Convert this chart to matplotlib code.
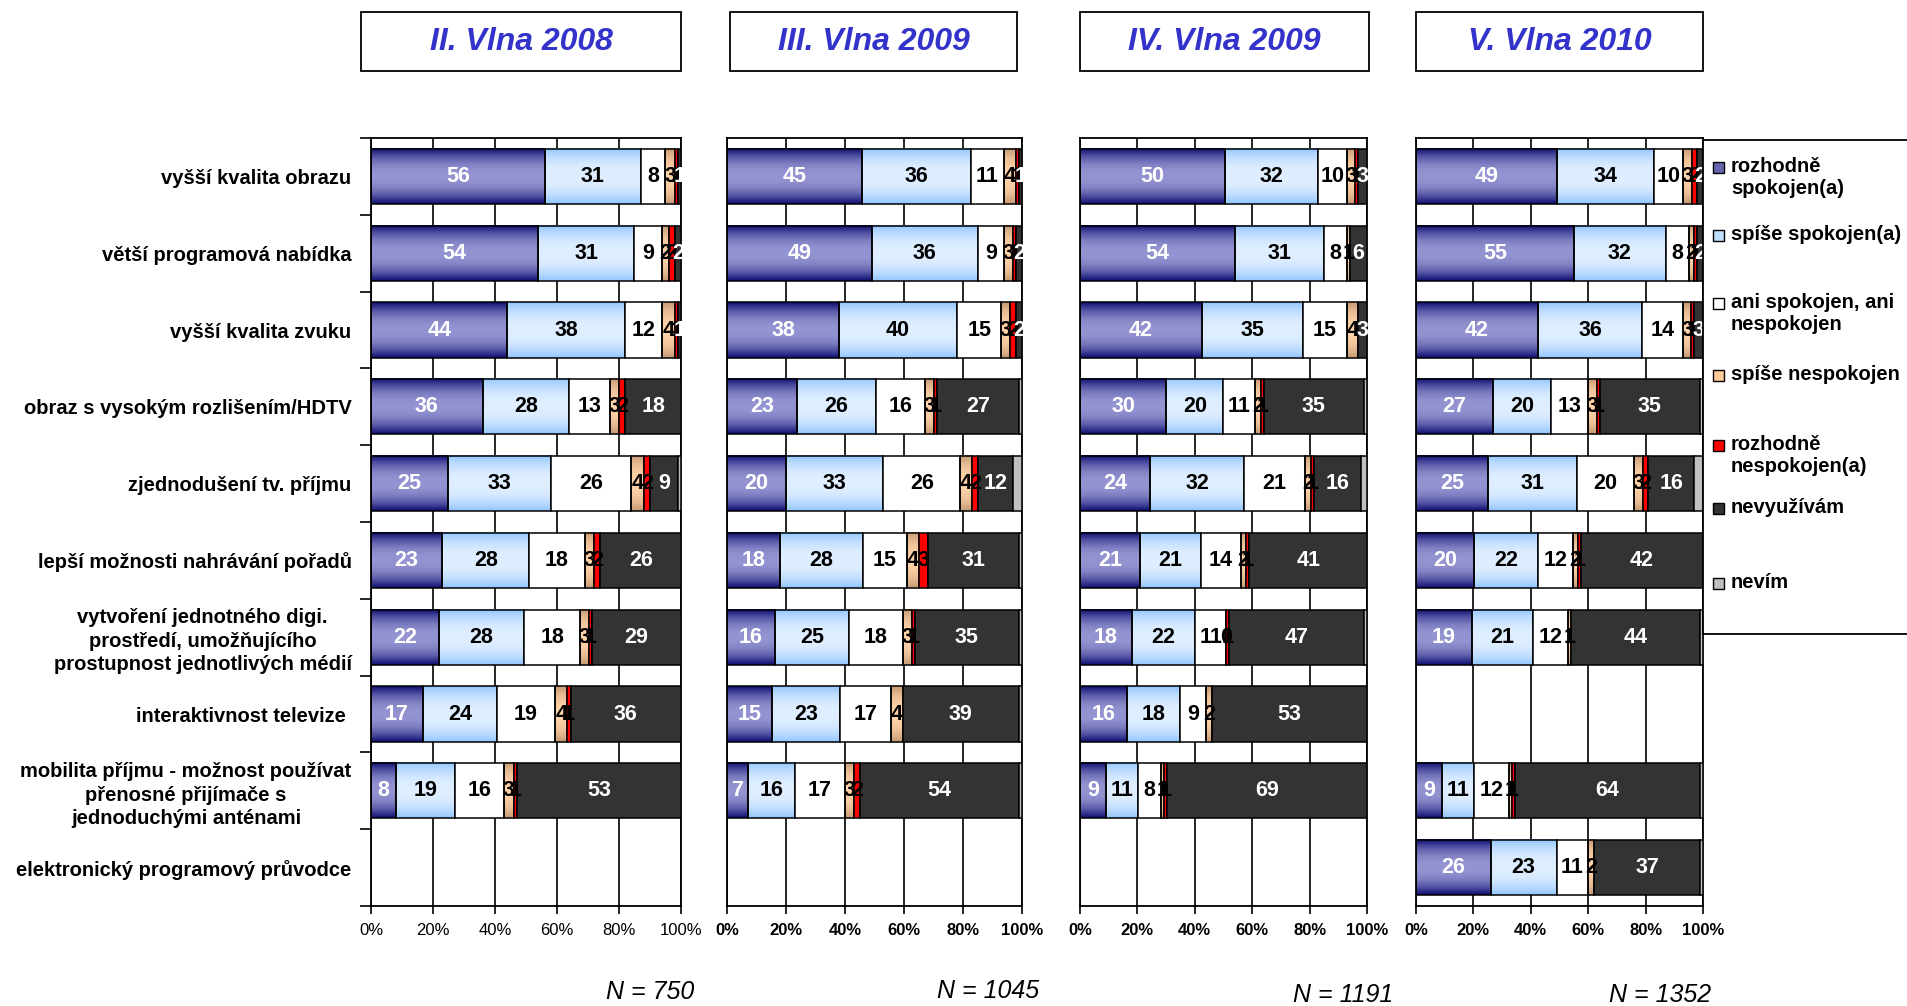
import numpy as np
import matplotlib
matplotlib.use("Agg")
import matplotlib.pyplot as plt
from matplotlib.patches import Rectangle
from matplotlib.colors import to_rgb

plt.rcParams['font.family'] = ['Liberation Sans', 'DejaVu Sans']

nan = np.nan

categories = [
    "vyšší kvalita obrazu",
    "větší programová nabídka",
    "vyšší kvalita zvuku",
    "obraz s vysokým rozlišením/HDTV",
    "zjednodušení tv. příjmu",
    "lepší možnosti nahrávání pořadů",
    "vytvoření jednotného digi.\nprostředí, umožňujícího\nprostupnost jednotlivých médií",
    "interaktivnost televize ",
    "mobilita příjmu - možnost používat\npřenosné přijímače s\njednoduchými anténami",
    "elektronický programový průvodce",
]

series_names = [
    "rozhodně\nspokojen(a)",
    "spíše spokojen(a)",
    "ani spokojen, ani\nnespokojen",
    "spíše nespokojen",
    "rozhodně\nnespokojen(a)",
    "nevyužívám",
    "nevím",
]

panel_titles = ["II. Vlna 2008", "III. Vlna 2009", "IV. Vlna 2009", "V. Vlna 2010"]
panel_n = ["N = 750", "N = 1045", "N = 1191", "N = 1352"]

# rows: categories; columns: series (7)
wave_2008 = [
    [56, 31, 8, 3, 1, 1, nan],
    [54, 31, 9, 2, 2, 2, nan],
    [44, 38, 12, 4, 1, 1, nan],
    [36, 28, 13, 3, 2, 18, nan],
    [25, 33, 26, 4, 2, 9, 1],
    [23, 28, 18, 3, 2, 26, nan],
    [22, 28, 18, 3, 1, 29, nan],
    [17, 24, 19, 4, 1, 36, nan],
    [8, 19, 16, 3, 1, 53, nan],
    [nan, nan, nan, nan, nan, nan, nan],
]
wave_2009a = [
    [45, 36, 11, 4, 1, 1, nan],
    [49, 36, 9, 3, 1, 2, nan],
    [38, 40, 15, 3, 2, 2, nan],
    [23, 26, 16, 3, 1, 27, 1],
    [20, 33, 26, 4, 2, 12, 3],
    [18, 28, 15, 4, 3, 31, 1],
    [16, 25, 18, 3, 1, 35, 1],
    [15, 23, 17, 4, nan, 39, 1],
    [7, 16, 17, 3, 2, 54, 1],
    [nan, nan, nan, nan, nan, nan, nan],
]
wave_2009b = [
    [50, 32, 10, 3, 1, 3, nan],
    [54, 31, 8, 1, nan, 6, nan],
    [42, 35, 15, 4, nan, 3, nan],
    [30, 20, 11, 2, 1, 35, 1],
    [24, 32, 21, 2, 1, 16, 2],
    [21, 21, 14, 2, 1, 41, nan],
    [18, 22, 11, 0, 1, 47, 1],
    [16, 18, 9, 2, nan, 53, nan],
    [9, 11, 8, 1, 1, 69, nan],
    [nan, nan, nan, nan, nan, nan, nan],
]
wave_2010 = [
    [49, 34, 10, 3, 2, 2, nan],
    [55, 32, 8, 2, 1, 2, nan],
    [42, 36, 14, 3, 1, 3, nan],
    [27, 20, 13, 3, 1, 35, 1],
    [25, 31, 20, 3, 2, 16, 3],
    [20, 22, 12, 2, 1, 42, nan],
    [19, 21, 12, 1, nan, 44, 1],
    [nan, nan, nan, nan, nan, nan, nan],
    [9, 11, 12, 1, 1, 64, 1],
    [26, 23, 11, 2, nan, 37, 1],
]
waves = [wave_2008, wave_2009a, wave_2009b, wave_2010]

base_colors = ["#2B2B8C", "#A8D4FF", "#FFFFFF", "#E8B890", "#FF0000", "#333333", "#C0C0C0"]
legend_colors = ["#6666B0", "#BFDFFF", "#FFFFFF", "#FFCC99", "#FF0000", "#333333", "#C0C0C0"]
# gradient (edge colour, centre colour) for shaded series
gradients = {
    0: ("#0C0C70", "#9494D2"),
    1: ("#92C6FF", "#E0EFFF"),
    3: ("#C49A74", "#FFD2A8"),
}
label_colors = ["white", "black", "black", "black", "black", "white", None]

W, H = 1908, 1006
fig = plt.figure(figsize=(W / 100, H / 100), dpi=100)

panel_px = [(371, 681), (727, 1022), (1080, 1367), (1416, 1703)]
top_px, bot_px = 138, 906
title_box_px = [(361, 681), (730, 1017), (1080, 1369), (1416, 1703)]
n_pos_px = [(650, 992), (988, 991), (1343, 995), (1660, 995)]

ncat = len(categories)
ypos = np.arange(ncat)
bar_h = 0.72


def gradient_image(c_edge, c_mid, n=64):
    t = np.linspace(-1, 1, n)
    w = 1 - np.abs(t) ** 2.2
    e = np.array(to_rgb(c_edge))
    m = np.array(to_rgb(c_mid))
    col = e[None, :] * (1 - w[:, None]) + m[None, :] * w[:, None]
    return col[:, None, :]


for p, data in enumerate(waves):
    x0, x1 = panel_px[p]
    ax = fig.add_axes([x0 / W, 1 - bot_px / H, (x1 - x0) / W, (bot_px - top_px) / H])
    arr = np.array(data, dtype=float)
    totals = np.nansum(arr, axis=1)
    totals[totals == 0] = 1
    frac = np.nan_to_num(arr) / totals[:, None] * 100
    lefts = np.zeros(ncat)
    for j in range(arr.shape[1]):
        widths = frac[:, j]
        valid = ~np.isnan(arr[:, j])
        yy = ypos[valid]
        ww = widths[valid]
        ll = lefts[valid]
        if j in gradients:
            bars = ax.barh(yy, ww, left=ll, height=bar_h, facecolor='none',
                           edgecolor='black', linewidth=1.1, zorder=3)
            img = gradient_image(*gradients[j])
            for patch in bars.patches:
                bx, by = patch.get_x(), patch.get_y()
                bw, bh = patch.get_width(), patch.get_height()
                if bw <= 0:
                    continue
                ax.imshow(img, extent=(bx, bx + bw, by, by + bh), aspect='auto',
                          origin='lower', zorder=2, interpolation='bilinear')
        else:
            bars = ax.barh(yy, ww, left=ll, height=bar_h, color=base_colors[j],
                           edgecolor='black', linewidth=1.1, zorder=3)
        if label_colors[j] is not None:
            for yi, li, wi, vi in zip(yy, ll, ww, arr[valid, j]):
                ax.text(li + wi / 2, yi, f"{int(vi)}", ha='center', va='center',
                        fontsize=15.5, fontweight='bold', color=label_colors[j], zorder=5)
        lefts = lefts + widths

    ax.set_xlim(0, 100)
    ax.set_ylim(ncat - 0.5, -0.5)
    ax.set_xticks([0, 20, 40, 60, 80, 100])
    ax.set_xticklabels(["0%", "20%", "40%", "60%", "80%", "100%"],
                       fontsize=12, fontweight='normal' if p == 0 else 'bold')
    ax.tick_params(axis='x', direction='out', length=6, width=1.2, pad=6)
    ax.set_axisbelow(True)
    ax.xaxis.grid(True, color='black', linewidth=1.2, zorder=0)
    ax.set_yticks(np.arange(-0.5, ncat, 1))
    ax.set_yticklabels([])
    if p == 0:
        ax.tick_params(axis='y', which='major', direction='out', length=8, width=1.2)
        ax.set_yticks(ypos, minor=True)
        ax.set_yticklabels(categories, minor=True, fontsize=14.5, fontweight='bold',
                           multialignment='center', linespacing=1.3)
        ax.tick_params(axis='y', which='minor', length=0, pad=14)
    else:
        ax.tick_params(axis='y', which='major', length=0)
    for s in ax.spines.values():
        s.set_color('black')
        s.set_linewidth(1.3)

    # title box
    bx0, bx1 = title_box_px[p]
    fig.patches.append(Rectangle((bx0 / W, 1 - 71 / H), (bx1 - bx0) / W, 59 / H,
                                 transform=fig.transFigure, facecolor='white',
                                 edgecolor='black', linewidth=1.3))
    fig.text((bx0 + bx1) / 2 / W, 1 - 42 / H, panel_titles[p], ha='center', va='center',
             fontsize=23, fontweight='bold', fontstyle='italic', color='#3333CC')
    nx, ny = n_pos_px[p]
    fig.text(nx / W, 1 - ny / H, panel_n[p], ha='center', va='center',
             fontsize=18, fontstyle='italic')

# legend (manual, Excel-like layout)
fig.patches.append(Rectangle((1703 / W, 1 - 634 / H), 220 / W, (634 - 140) / H,
                             transform=fig.transFigure, facecolor='white',
                             edgecolor='black', linewidth=1.3, clip_on=False))
legend_y = [167, 235, 303, 375, 445, 508, 583]
for j, name in enumerate(series_names):
    y = legend_y[j]
    fig.patches.append(Rectangle((1713 / W, 1 - (y + 6) / H), 11 / W, 11 / H,
                                 transform=fig.transFigure, facecolor=legend_colors[j],
                                 edgecolor='black', linewidth=1.0))
    fig.text(1731 / W, 1 - (y - 10) / H, name, ha='left', va='top',
             fontsize=14.5, fontweight='bold', linespacing=1.2)

fig.savefig("out.png", dpi=100)
